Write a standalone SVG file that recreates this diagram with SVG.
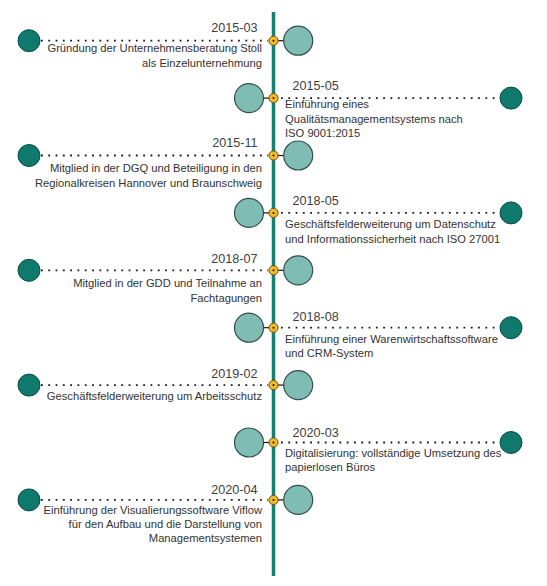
<svg xmlns="http://www.w3.org/2000/svg" width="547" height="586" viewBox="0 0 547 586">
<style>
.date{font-family:"Liberation Sans",Arial,sans-serif;font-size:12.6px;fill:#404040}
.desc{font-family:"Liberation Sans",Arial,sans-serif;font-size:11.2px;fill:#333333}
.l{text-anchor:end}
.dark{fill:#0f7a6b;stroke:#0a4d45;stroke-width:1}
.light{fill:#7fbdb4;stroke:#33504c;stroke-width:1.2}
.pin{fill:#f4b92a;stroke:#6b5210;stroke-width:1}
.pc{fill:#111}
.dot{stroke:#1a1a1a;stroke-width:1.8;stroke-dasharray:1.8 5.5;fill:none}
.stub{stroke:#111;stroke-width:1.2}
.axis{stroke:#16806f;stroke-width:3.5}
</style>
<rect width="547" height="586" fill="#ffffff"/>
<g id="connectors">
<line class="axis" x1="273.5" y1="12" x2="273.5" y2="576"/>
<line class="dot" x1="41" y1="40.7" x2="268" y2="40.7"/>
<line class="stub" x1="278" y1="40.7" x2="284" y2="40.7"/>
<line class="dot" x1="281" y1="98.1" x2="500" y2="98.1"/>
<line class="stub" x1="263.5" y1="98.1" x2="269" y2="98.1"/>
<line class="dot" x1="41" y1="155.5" x2="268" y2="155.5"/>
<line class="stub" x1="278" y1="155.5" x2="284" y2="155.5"/>
<line class="dot" x1="281" y1="212.9" x2="500" y2="212.9"/>
<line class="stub" x1="263.5" y1="212.9" x2="269" y2="212.9"/>
<line class="dot" x1="41" y1="270.3" x2="268" y2="270.3"/>
<line class="stub" x1="278" y1="270.3" x2="284" y2="270.3"/>
<line class="dot" x1="281" y1="327.7" x2="500" y2="327.7"/>
<line class="stub" x1="263.5" y1="327.7" x2="269" y2="327.7"/>
<line class="dot" x1="41" y1="385.1" x2="268" y2="385.1"/>
<line class="stub" x1="278" y1="385.1" x2="284" y2="385.1"/>
<line class="dot" x1="281" y1="442.5" x2="500" y2="442.5"/>
<line class="stub" x1="263.5" y1="442.5" x2="269" y2="442.5"/>
<line class="dot" x1="41" y1="499.9" x2="268" y2="499.9"/>
<line class="stub" x1="278" y1="499.9" x2="284" y2="499.9"/>
</g>
<g id="e2015-03">
<circle class="dark" cx="29" cy="40.7" r="11"/>
<circle class="light" cx="298.2" cy="40.7" r="14.5"/>
<circle class="pin" cx="273.5" cy="40.7" r="4.6"/><circle class="pc" cx="273.5" cy="40.7" r="1"/>
<text class="date l" x="257.5" y="31.5">2015-03</text>
<text class="desc l" x="262" y="52">Gründung der Unternehmensberatung Stoll</text>
<text class="desc l" x="262" y="66.5">als Einzelunternehmung</text>
</g>
<g id="e2015-05">
<circle class="dark" cx="511" cy="98.1" r="11"/>
<circle class="light" cx="249" cy="98.1" r="14.5"/>
<circle class="pin" cx="273.5" cy="98.1" r="4.6"/><circle class="pc" cx="273.5" cy="98.1" r="1"/>
<text class="date" x="292.5" y="90">2015-05</text>
<text class="desc" x="285" y="108.3">Einführung eines</text>
<text class="desc" x="285" y="122.8">Qualitätsmanagementsystems nach</text>
<text class="desc" x="285" y="137">ISO 9001:2015</text>
</g>
<g id="e2015-11">
<circle class="dark" cx="29" cy="155.5" r="11"/>
<circle class="light" cx="298.2" cy="155.5" r="14.5"/>
<circle class="pin" cx="273.5" cy="155.5" r="4.6"/><circle class="pc" cx="273.5" cy="155.5" r="1"/>
<text class="date l" x="257.5" y="147">2015-11</text>
<text class="desc l" x="262" y="172">Mitglied in der DGQ und Beteiligung in den</text>
<text class="desc l" x="262" y="187">Regionalkreisen Hannover und Braunschweig</text>
</g>
<g id="e2018-05">
<circle class="dark" cx="511" cy="212.9" r="11"/>
<circle class="light" cx="249" cy="212.9" r="14.5"/>
<circle class="pin" cx="273.5" cy="212.9" r="4.6"/><circle class="pc" cx="273.5" cy="212.9" r="1"/>
<text class="date" x="292.5" y="205">2018-05</text>
<text class="desc" x="285" y="228">Geschäftsfelderweiterung um Datenschutz</text>
<text class="desc" x="285" y="242.5">und Informationssicherheit nach ISO 27001</text>
</g>
<g id="e2018-07">
<circle class="dark" cx="29" cy="270.3" r="11"/>
<circle class="light" cx="298.2" cy="270.3" r="14.5"/>
<circle class="pin" cx="273.5" cy="270.3" r="4.6"/><circle class="pc" cx="273.5" cy="270.3" r="1"/>
<text class="date l" x="257.5" y="263">2018-07</text>
<text class="desc l" x="262" y="287">Mitglied in der GDD und Teilnahme an</text>
<text class="desc l" x="262" y="301.5">Fachtagungen</text>
</g>
<g id="e2018-08">
<circle class="dark" cx="511" cy="327.7" r="11"/>
<circle class="light" cx="249" cy="327.7" r="14.5"/>
<circle class="pin" cx="273.5" cy="327.7" r="4.6"/><circle class="pc" cx="273.5" cy="327.7" r="1"/>
<text class="date" x="292.5" y="320.5">2018-08</text>
<text class="desc" x="285" y="342.5">Einführung einer Warenwirtschaftssoftware</text>
<text class="desc" x="285" y="357">und CRM-System</text>
</g>
<g id="e2019-02">
<circle class="dark" cx="29" cy="385.1" r="11"/>
<circle class="light" cx="298.2" cy="385.1" r="14.5"/>
<circle class="pin" cx="273.5" cy="385.1" r="4.6"/><circle class="pc" cx="273.5" cy="385.1" r="1"/>
<text class="date l" x="257.5" y="378">2019-02</text>
<text class="desc l" x="262" y="400">Geschäftsfelderweiterung um Arbeitsschutz</text>
</g>
<g id="e2020-03">
<circle class="dark" cx="511" cy="442.5" r="11"/>
<circle class="light" cx="249" cy="442.5" r="14.5"/>
<circle class="pin" cx="273.5" cy="442.5" r="4.6"/><circle class="pc" cx="273.5" cy="442.5" r="1"/>
<text class="date" x="292.5" y="436.5">2020-03</text>
<text class="desc" x="285" y="457">Digitalisierung: vollständige Umsetzung des</text>
<text class="desc" x="285" y="471">papierlosen Büros</text>
</g>
<g id="e2020-04">
<circle class="dark" cx="29" cy="499.9" r="11"/>
<circle class="light" cx="298.2" cy="499.9" r="14.5"/>
<circle class="pin" cx="273.5" cy="499.9" r="4.6"/><circle class="pc" cx="273.5" cy="499.9" r="1"/>
<text class="date l" x="257.5" y="493.5">2020-04</text>
<text class="desc l" x="262" y="513.5">Einführung der Visualierungssoftware Viflow</text>
<text class="desc l" x="262" y="528">für den Aufbau und die Darstellung von</text>
<text class="desc l" x="262" y="542">Managementsystemen</text>
</g>
</svg>
